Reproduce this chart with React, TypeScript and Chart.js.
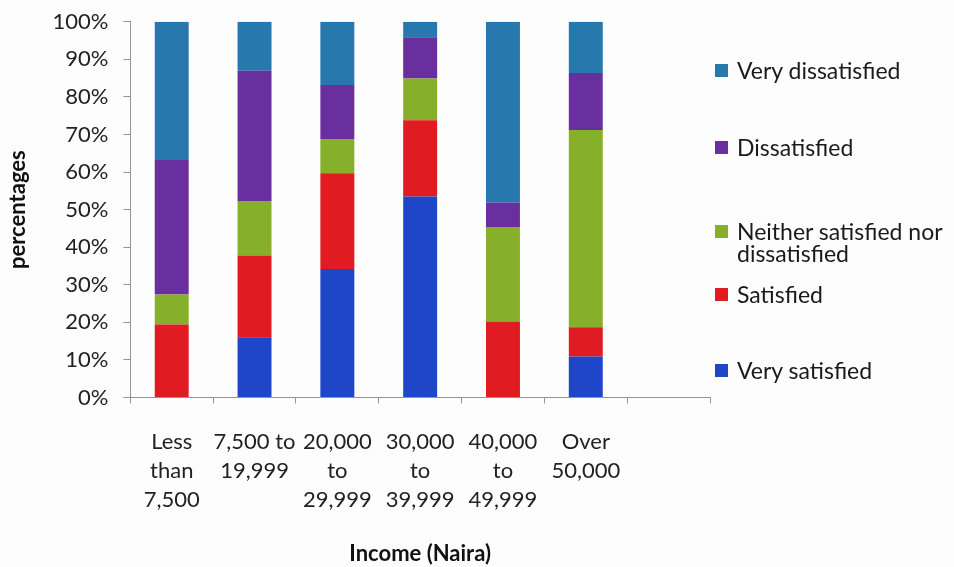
import React, { useEffect, useRef } from "react";
import { Chart, registerables } from "chart.js";

Chart.register(...registerables);

// Income bands (Naira); the trailing empty slot keeps the axis running one band past the data
const incomeBands: (string | string[])[] = [
  ["Less", "than", "7,500"],
  ["7,500 to", "19,999"],
  ["20,000", "to", "29,999"],
  ["30,000", "to", "39,999"],
  ["40,000", "to", "49,999"],
  ["Over", "50,000"],
  "",
];

// Share of respondents (%) per satisfaction level
const verySatisfied = [0, 16.0, 34.2, 53.5, 0, 10.9, null];
const satisfied = [19.4, 21.8, 25.5, 20.3, 20.2, 7.8, null];
const neither = [8.0, 14.5, 9.1, 11.1, 25.2, 52.5, null];
const dissatisfied = [35.8, 34.7, 14.4, 11.0, 6.5, 15.2, null];
const veryDissatisfied = [36.8, 13.0, 16.8, 4.1, 48.1, 13.6, null];

const yTicks = [0, 10, 20, 30, 40, 50, 60, 70, 80, 90, 100];

const COLORS = {
  verySatisfied: "#1f45c9",
  satisfied: "#e11b22",
  neither: "#86b02a",
  dissatisfied: "#6a2f9f",
  veryDissatisfied: "#2678ad",
};

const FONT = "Lato, 'Open Sans', sans-serif";

// Legend entries, top to bottom, with the vertical centre of their first line
const legendItems: { label: string[]; color: string; y: number }[] = [
  { label: ["Very dissatisfied"], color: COLORS.veryDissatisfied, y: 70 },
  { label: ["Dissatisfied"], color: COLORS.dissatisfied, y: 147 },
  { label: ["Neither satisfied nor", "dissatisfied"], color: COLORS.neither, y: 231 },
  { label: ["Satisfied"], color: COLORS.satisfied, y: 294 },
  { label: ["Very satisfied"], color: COLORS.verySatisfied, y: 370 },
];

export default function App() {
  const canvasRef = useRef<HTMLCanvasElement | null>(null);

  useEffect(() => {
    if (!canvasRef.current) return;
    const axisColor = "#9a9393";
    const chart = new Chart(canvasRef.current, {
      type: "bar",
      data: {
        labels: incomeBands,
        datasets: [
          { label: "Very satisfied", data: verySatisfied, backgroundColor: COLORS.verySatisfied },
          { label: "Satisfied", data: satisfied, backgroundColor: COLORS.satisfied },
          { label: "Neither satisfied nor dissatisfied", data: neither, backgroundColor: COLORS.neither },
          { label: "Dissatisfied", data: dissatisfied, backgroundColor: COLORS.dissatisfied },
          { label: "Very dissatisfied", data: veryDissatisfied, backgroundColor: COLORS.veryDissatisfied },
        ],
      },
      options: {
        animation: false,
        responsive: false,
        maintainAspectRatio: false,
        layout: { padding: { top: 0, right: 244, bottom: 0, left: 0 } },
        datasets: { bar: { categoryPercentage: 1, barPercentage: 0.41 } },
        plugins: {
          legend: { display: false },
          tooltip: { enabled: false },
        },
        scales: {
          x: {
            stacked: true,
            offset: true,
            border: { color: axisColor, width: 1 },
            grid: {
              offset: true,
              drawOnChartArea: false,
              drawTicks: true,
              tickLength: 6,
              color: axisColor,
            },
            ticks: {
              maxRotation: 0,
              autoSkip: false,
              padding: 24,
              color: "#222",
              font: { family: FONT, size: 22, lineHeight: 1.32 },
            },
            title: {
              display: true,
              text: "Income (Naira)",
              color: "#111",
              padding: { top: 2, bottom: 0 },
              font: { family: FONT, size: 22, weight: "bold" },
            },
          },
          y: {
            stacked: true,
            min: 0,
            max: 100,
            border: { color: axisColor, width: 1 },
            grid: {
              drawOnChartArea: false,
              drawTicks: true,
              tickLength: 7,
              color: axisColor,
            },
            afterBuildTicks: (axis: any) => {
              axis.ticks = yTicks.map((v) => ({ value: v }));
            },
            ticks: {
              padding: 15,
              color: "#222",
              // compact line height keeps the top tick label from pushing the plot down
              font: { family: FONT, size: 22, lineHeight: 0.62 },
              callback: (v: any) => `${v}%`,
            },
            title: {
              display: true,
              text: "percentages",
              color: "#111",
              padding: { top: 5, bottom: 6 },
              font: { family: FONT, size: 22, weight: "bold" },
            },
          },
        },
      },
    });
    return () => chart.destroy();
  }, []);

  return (
    <div
      style={{
        position: "absolute",
        left: 0,
        top: 0,
        width: 954,
        height: 567,
        background: "#fdfdfd",
        overflow: "hidden",
        fontFamily: FONT,
      }}
    >
      <canvas ref={canvasRef} width={954} height={567} style={{ position: "absolute", left: 0, top: 0 }} />
      {legendItems.map((item) => (
        <div
          key={item.label.join(" ")}
          style={{ position: "absolute", left: 715, top: item.y - 11, display: "flex", alignItems: "flex-start" }}
        >
          <span
            style={{
              width: 13,
              height: 13,
              background: item.color,
              marginTop: 5,
              marginRight: 9,
              flex: "none",
            }}
          />
          <span style={{ fontSize: 23, lineHeight: "22px", color: "#1a1a1a", whiteSpace: "nowrap" }}>
            {item.label.map((line) => (
              <div key={line}>{line}</div>
            ))}
          </span>
        </div>
      ))}
    </div>
  );
}
